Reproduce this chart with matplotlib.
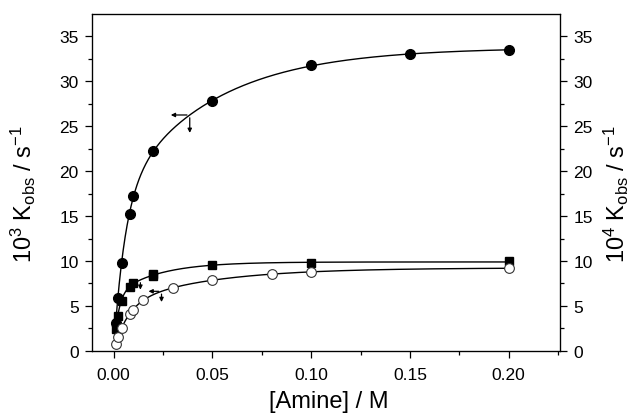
import numpy as np
import matplotlib
matplotlib.use("Agg")
import matplotlib.pyplot as plt

plt.rcParams['font.family'] = ['Liberation Sans', 'DejaVu Sans']
plt.rcParams['mathtext.fontset'] = 'custom'
plt.rcParams['mathtext.rm'] = 'Liberation Sans'
plt.rcParams['mathtext.it'] = 'Liberation Sans:italic'

# Data
x_filled = [0.001, 0.002, 0.004, 0.008, 0.010, 0.020, 0.050, 0.100, 0.150, 0.200]
y_filled = [3.1, 5.9, 9.8, 15.2, 17.2, 22.2, 27.8, 31.8, 33.0, 33.4]

x_square = [0.001, 0.002, 0.004, 0.008, 0.010, 0.020, 0.020, 0.050, 0.100, 0.200]
y_square = [2.4, 3.9, 5.5, 7.1, 7.6, 8.6, 8.3, 9.5, 9.75, 10.0]

x_open = [0.001, 0.002, 0.004, 0.008, 0.010, 0.015, 0.030, 0.050, 0.080, 0.100, 0.200]
y_open = [0.8, 1.5, 2.5, 4.1, 4.6, 5.7, 7.0, 7.9, 8.5, 8.8, 9.2]

x_ticks = [0.00, 0.05, 0.10, 0.15, 0.20]
y_ticks = [0, 5, 10, 15, 20, 25, 30, 35]


def biexp_fit(x, y):
    """Least-squares fit of y = a(1-exp(-x/b1)) + c(1-exp(-x/b2)), a,c >= 0."""
    x = np.asarray(x, float)
    y = np.asarray(y, float)
    best = None
    for b1 in np.geomspace(0.0005, 0.03, 80):
        g1 = 1 - np.exp(-x / b1)
        for b2 in np.geomspace(b1 * 1.5, 0.3, 80):
            g2 = 1 - np.exp(-x / b2)
            A = np.column_stack([g1, g2])
            coef, *_ = np.linalg.lstsq(A, y, rcond=None)
            if np.any(coef < 0):
                continue
            r = np.sum((A @ coef - y) ** 2)
            if best is None or r < best[0]:
                best = (r, coef, b1, b2)
    _, (a, c), b1, b2 = best
    return lambda t: a * (1 - np.exp(-t / b1)) + c * (1 - np.exp(-t / b2))


fig = plt.figure(figsize=(6.31, 4.14), dpi=100)
ax = fig.add_axes([0.1458, 0.1498, 0.8875 - 0.1458, 0.9638 - 0.1498])

xs = np.linspace(0.0008, 0.2, 800)
fits = []
for xd, yd in [(x_filled, y_filled), (x_square, y_square), (x_open, y_open)]:
    f = biexp_fit(xd, yd)
    fits.append(f)
    ax.plot(xs, f(xs), color='black', lw=1.0, zorder=2)

ax.plot(x_filled, y_filled, 'o', ms=7, mfc='black', mec='black', zorder=3)
ax.plot(x_square, y_square, 's', ms=6.3, mfc='black', mec='black', zorder=3)
ax.plot(x_open, y_open, 'o', ms=7, mfc='white', mec='#333333', mew=0.8, zorder=4)

# arrows indicating axes (junction placed on the fitted curve)
akw = dict(arrowstyle='-|>', color='black', lw=0.9, mutation_scale=6)
for f, jx, dx, dy in [(fits[0], 0.0385, 0.011, 2.3),
                      (fits[2], 0.0242, 0.008, 1.5)]:
    jy = float(f(jx))
    ax.annotate('', xy=(jx - dx, jy), xytext=(jx, jy), arrowprops=akw, zorder=5)
    ax.annotate('', xy=(jx, jy - dy), xytext=(jx, jy), arrowprops=akw, zorder=5)
jx = 0.0135
jy = float(fits[1](jx))
ax.annotate('', xy=(jx, jy - 1.4), xytext=(jx, jy), arrowprops=akw, zorder=5)

ax.set_xlim(-0.011, 0.226)
ax.set_ylim(0, 37.45)
ax.set_xticks(x_ticks)
ax.set_xticklabels([f"{v:.2f}" for v in x_ticks])
ax.set_xticks([0.025, 0.075, 0.125, 0.175, 0.225], minor=True)
ax.set_yticks(y_ticks)
ax.set_yticks(np.arange(2.5, 37.5, 5), minor=True)

ax.tick_params(axis='both', which='major', direction='out', length=5, width=0.9,
               labelsize=12.5, top=False)
ax.tick_params(axis='x', which='major', pad=6.5)
ax.tick_params(axis='y', which='major', pad=4.5)
ax.tick_params(axis='both', which='minor', direction='out', length=3, width=0.9, top=False)
for s in ax.spines.values():
    s.set_linewidth(0.9)

ax.set_xlabel('[Amine] / M', fontsize=17)
ax.xaxis.set_label_coords(0.505, -0.115)
ax.set_ylabel(r'$\mathrm{10^3\ K_{obs}\ /\ s^{-1}}$', fontsize=17)
ax.yaxis.set_label_coords(-0.115, 0.47)

ax2 = ax.twinx()
ax2.set_ylim(0, 37.45)
ax2.set_yticks(y_ticks)
ax2.set_yticks(np.arange(2.5, 37.5, 5), minor=True)
ax2.tick_params(axis='y', which='major', direction='out', length=5, width=0.9,
                labelsize=12.5, pad=4.5)
ax2.tick_params(axis='y', which='minor', direction='out', length=3, width=0.9)
ax2.set_ylabel(r'$\mathrm{10^4\ K_{obs}\ /\ s^{-1}}$', fontsize=17)
ax2.yaxis.set_label_coords(1.09, 0.47)

fig.savefig('out.png', dpi=100)
